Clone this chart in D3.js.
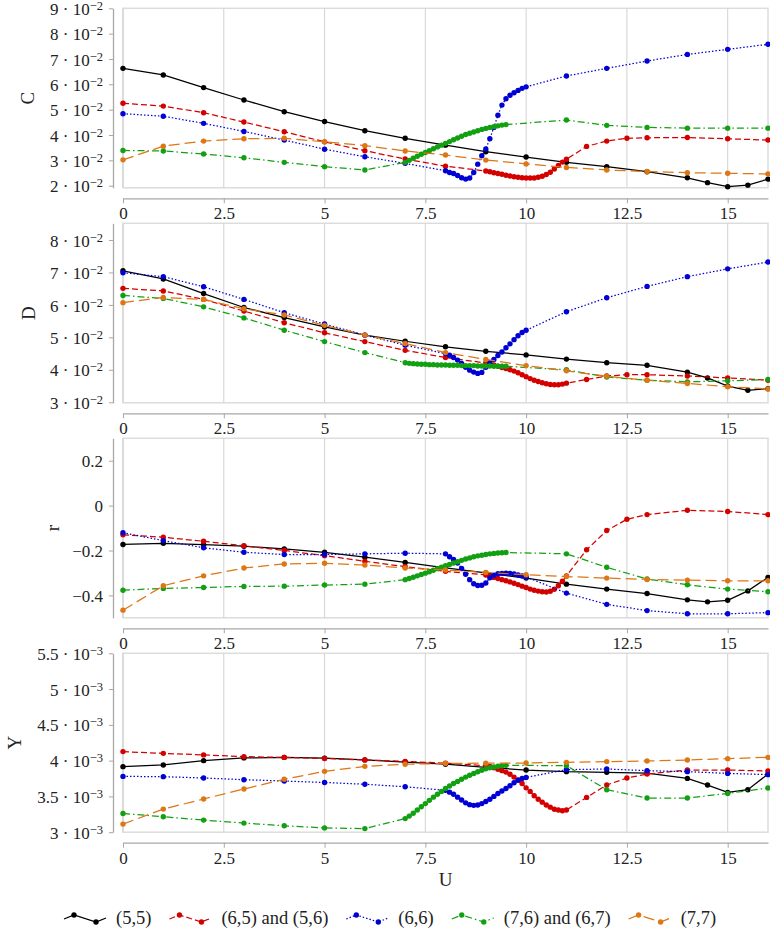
<!DOCTYPE html>
<html>
<head>
<meta charset="utf-8">
<script src="https://cdnjs.cloudflare.com/ajax/libs/d3/7.8.5/d3.min.js"></script>
<style>
  body { margin: 0; background: #fff; }
  svg { display: block; font-family: "Liberation Serif", serif; }
  svg text { font-family: "Liberation Serif", serif; }
</style>
</head>
<body>
<div id="canvas"></div>
<script>
// U grids of each series
const xBlack = [0,1,2,3,4,5,6,7,8,9,10,11,12,13,14,14.5,15,15.5,16];
const xRed = [0,1,2,3,4,5,6,7,8,9,9.1,9.2,9.3,9.4,9.5,9.6,9.7,9.8,9.9,10,10.1,10.2,10.3,10.4,10.5,10.6,10.7,10.8,10.9,11,11.5,12,12.5,13,14,15,16];
const xBlue = [0,1,2,3,4,5,6,7,8,8.1,8.2,8.3,8.4,8.5,8.6,8.7,8.8,8.9,9,9.1,9.2,9.3,9.4,9.5,9.6,9.7,9.8,9.9,10,11,12,13,14,15,16];
const xGreen = [0,1,2,3,4,5,6,7,7.1,7.2,7.3,7.4,7.5,7.6,7.7,7.8,7.9,8,8.1,8.2,8.3,8.4,8.5,8.6,8.7,8.8,8.9,9,9.1,9.2,9.3,9.4,9.5,11,12,13,14,15,16];
const xOrange = [0,1,2,3,4,5,6,7,8,9,10,11,12,13,14,15,16];

// C (x 10^-2)
const blackC = [6.63,6.37,5.87,5.38,4.92,4.53,4.17,3.87,3.60,3.34,3.13,2.92,2.75,2.55,2.31,2.12,1.96,2.02,2.26];
const redC = [5.25,5.14,4.88,4.51,4.13,3.73,3.38,3.05,2.77,2.58,2.55,2.51,2.48,2.45,2.41,2.38,2.35,2.33,2.31,2.30,2.30,2.30,2.33,2.37,2.44,2.53,2.66,2.80,2.93,3.04,3.55,3.76,3.87,3.89,3.90,3.85,3.80];
const blueC = [4.84,4.74,4.46,4.14,3.80,3.44,3.14,2.88,2.59,2.52,2.48,2.40,2.31,2.26,2.30,2.52,2.85,3.18,3.45,3.85,4.30,4.78,5.18,5.43,5.57,5.67,5.76,5.84,5.90,6.33,6.63,6.92,7.18,7.38,7.58];
const greenC = [3.39,3.37,3.25,3.10,2.92,2.75,2.62,2.92,3.00,3.08,3.16,3.24,3.31,3.38,3.46,3.53,3.60,3.67,3.74,3.81,3.88,3.95,4.02,4.07,4.12,4.17,4.22,4.26,4.30,4.33,4.36,4.39,4.41,4.59,4.38,4.30,4.27,4.27,4.27];
const orangeC = [3.02,3.56,3.76,3.85,3.87,3.73,3.58,3.37,3.21,3.01,2.86,2.72,2.62,2.56,2.51,2.49,2.46];

// D (x 10^-2)
const blackD = [7.05,6.80,6.35,5.92,5.61,5.32,5.07,4.88,4.71,4.57,4.46,4.33,4.22,4.14,3.93,3.75,3.50,3.37,3.42];
const redD = [6.51,6.43,6.17,5.81,5.45,5.14,4.87,4.60,4.38,4.21,4.18,4.15,4.11,4.07,4.04,4.00,3.96,3.91,3.85,3.79,3.73,3.68,3.64,3.60,3.57,3.55,3.54,3.54,3.56,3.59,3.70,3.81,3.85,3.85,3.81,3.75,3.68];
const blueD = [6.99,6.87,6.56,6.17,5.76,5.41,5.07,4.76,4.50,4.45,4.38,4.30,4.20,4.08,3.99,3.93,3.89,3.92,4.08,4.22,4.32,4.44,4.55,4.68,4.80,4.93,5.05,5.15,5.22,5.79,6.22,6.57,6.87,7.11,7.32];
const greenD = [6.29,6.20,5.94,5.60,5.22,4.87,4.53,4.22,4.20,4.19,4.18,4.17,4.17,4.16,4.16,4.15,4.15,4.15,4.14,4.14,4.14,4.13,4.13,4.13,4.13,4.12,4.12,4.12,4.12,4.11,4.11,4.11,4.11,4.00,3.78,3.68,3.63,3.66,3.70];
const orangeD = [6.07,6.23,6.17,5.88,5.69,5.37,5.07,4.81,4.53,4.32,4.13,3.97,3.80,3.68,3.58,3.48,3.41];

// r
const blackR = [-0.173,-0.168,-0.174,-0.181,-0.193,-0.208,-0.230,-0.253,-0.278,-0.300,-0.323,-0.350,-0.372,-0.392,-0.420,-0.429,-0.422,-0.380,-0.320];
const redR = [-0.130,-0.141,-0.159,-0.179,-0.200,-0.223,-0.248,-0.272,-0.293,-0.309,-0.315,-0.320,-0.325,-0.330,-0.335,-0.340,-0.346,-0.352,-0.359,-0.365,-0.372,-0.377,-0.381,-0.384,-0.385,-0.382,-0.373,-0.357,-0.337,-0.313,-0.197,-0.111,-0.061,-0.040,-0.021,-0.026,-0.040];
const blueR = [-0.121,-0.156,-0.188,-0.208,-0.218,-0.218,-0.215,-0.212,-0.215,-0.228,-0.240,-0.256,-0.280,-0.306,-0.330,-0.348,-0.356,-0.355,-0.345,-0.322,-0.310,-0.304,-0.302,-0.301,-0.302,-0.305,-0.309,-0.314,-0.318,-0.390,-0.440,-0.468,-0.482,-0.482,-0.477];
const greenR = [-0.377,-0.369,-0.365,-0.360,-0.359,-0.354,-0.350,-0.330,-0.325,-0.319,-0.313,-0.307,-0.301,-0.295,-0.288,-0.281,-0.275,-0.268,-0.262,-0.256,-0.250,-0.244,-0.238,-0.233,-0.228,-0.224,-0.221,-0.218,-0.215,-0.213,-0.211,-0.210,-0.209,-0.215,-0.275,-0.327,-0.353,-0.372,-0.384];
const orangeR = [-0.466,-0.357,-0.313,-0.278,-0.260,-0.257,-0.265,-0.278,-0.287,-0.298,-0.308,-0.316,-0.323,-0.329,-0.332,-0.335,-0.335];

// Y (x 10^-3)
const blackY = [3.916,3.940,4.000,4.038,4.045,4.035,4.010,3.980,3.950,3.905,3.869,3.846,3.837,3.827,3.752,3.659,3.556,3.594,3.813];
const redY = [4.126,4.102,4.080,4.056,4.045,4.030,4.010,3.990,3.965,3.93,3.92,3.90,3.88,3.86,3.84,3.81,3.77,3.73,3.68,3.62,3.57,3.51,3.46,3.42,3.38,3.35,3.32,3.31,3.30,3.31,3.486,3.660,3.757,3.813,3.869,3.869,3.855];
const blueY = [3.780,3.776,3.757,3.734,3.715,3.695,3.670,3.635,3.585,3.560,3.530,3.490,3.450,3.410,3.385,3.375,3.380,3.400,3.430,3.460,3.500,3.540,3.575,3.610,3.650,3.690,3.725,3.750,3.766,3.874,3.883,3.860,3.846,3.822,3.804];
const greenY = [3.262,3.216,3.169,3.127,3.090,3.060,3.050,3.190,3.225,3.265,3.310,3.355,3.400,3.445,3.490,3.530,3.570,3.610,3.645,3.680,3.710,3.740,3.770,3.795,3.820,3.845,3.865,3.885,3.900,3.912,3.922,3.930,3.934,3.930,3.594,3.477,3.477,3.542,3.618];
const orangeY = [3.113,3.323,3.464,3.604,3.740,3.850,3.920,3.950,3.960,3.965,3.967,3.976,3.986,3.995,4.009,4.028,4.046];

const xTicks = [0, 2.5, 5, 7.5, 10, 12.5, 15];

const w = 770;
const h = 941;
const left = 123, right = 768;
const serif = '"Liberation Serif", serif';

const series = [
	{ name: '(5,5)', color: '#000000', dash: null, x: xBlack, vals: [blackC, blackD, blackR, blackY] },
	{ name: '(6,5) and (5,6)', color: '#d40000', dash: '6,3', x: xRed, vals: [redC, redD, redR, redY] },
	{ name: '(6,6)', color: '#0000d4', dash: '1.5,2', x: xBlue, vals: [blueC, blueD, blueR, blueY] },
	{ name: '(7,6) and (6,7)', color: '#12a012', dash: '7,3,1.5,3', x: xGreen, vals: [greenC, greenD, greenR, greenY] },
	{ name: '(7,7)', color: '#dd7614', dash: '11,5', x: xOrange, vals: [orangeC, orangeD, orangeR, orangeY] }
];

const panels = [
	{ label: 'C', top: 8.3, bottom: 187.8, domain: [1.916, 9], ticks: [2,3,4,5,6,7,8,9], exp: '−2', labelX: 27 },
	{ label: 'D', top: 223.3, bottom: 402.8, domain: [2.984, 8.514], ticks: [3,4,5,6,7,8], exp: '−2', labelX: 28 },
	{ label: 'r', top: 438.3, bottom: 617.8, domain: [-0.5, 0.3], ticks: [-0.4,-0.2,0,0.2], exp: null, labelX: 52 },
	{ label: 'Y', top: 653.3, bottom: 832.2, domain: [3, 5.5], ticks: [3,3.5,4,4.5,5,5.5], exp: '−3', labelX: 14 }
];

const fmtNum = (d) => (d < 0 ? '−' : '') + String(Math.abs(d));

const svg = d3.select('#canvas')
	.append('svg')
	.attr('width', w)
	.attr('height', h);

const xScale = d3.scaleLinear().domain([0, 16]).range([left, right]);

panels.forEach((p, pi) => {
	const yScale = d3.scaleLinear().domain(p.domain).range([p.bottom, p.top]);
	const g = svg.append('g');

	// frame + vertical grid
	g.append('rect')
		.attr('x', left).attr('y', p.top)
		.attr('width', right - left).attr('height', p.bottom - p.top)
		.attr('fill', 'none').attr('stroke', '#dcdcdc').attr('stroke-width', 1.5);
	g.selectAll('.grid')
		.data(xTicks)
		.enter()
		.append('line')
		.attr('x1', (d) => xScale(d)).attr('x2', (d) => xScale(d))
		.attr('y1', p.top).attr('y2', p.bottom)
		.attr('stroke', '#d2d2d2').attr('stroke-width', 1);

	// x axis, shifted down
	const xAxis = d3.axisBottom(xScale).tickValues(xTicks).tickSize(5).tickSizeOuter(0).tickPadding(4).tickFormat(fmtNum);
	const gx = g.append('g')
		.attr('transform', 'translate(0, ' + (p.bottom + 10.5) + ')')
		.call(xAxis);
	gx.attr('font-family', null);
	gx.select('.domain').attr('stroke', '#a8a8a8').attr('stroke-width', 1.3);
	gx.selectAll('.tick line').attr('stroke', '#a8a8a8');
	gx.selectAll('text').style('font-family', serif).style('font-size', '17px').attr('fill', '#222');

	// y axis, shifted left
	const yAxis = d3.axisLeft(yScale).tickValues(p.ticks).tickSize(4).tickSizeOuter(0).tickPadding(6).tickFormat(fmtNum);
	const gy = g.append('g')
		.attr('transform', 'translate(' + (left - 10) + ', 0)')
		.call(yAxis);
	gy.attr('font-family', null);
	gy.select('.domain').attr('stroke', '#a8a8a8').attr('stroke-width', 1.3);
	gy.selectAll('.tick line').attr('stroke', '#a8a8a8');
	gy.selectAll('text')
		.style('font-family', serif).style('font-size', '17px').attr('fill', '#222')
		.attr('dy', '0.36em');
	if (p.exp) {
		gy.selectAll('.tick text').each(function(d) {
			const t = d3.select(this).text('');
			t.append('tspan').text(fmtNum(d) + ' · 10');
			t.append('tspan').style('font-size', '12.5px').attr('dy', -5).text(p.exp);
		});
	}

	g.append('text')
		.attr('transform', 'translate(' + p.labelX + ', ' + ((p.top + p.bottom) / 2) + ') rotate(-90)')
		.attr('text-anchor', 'middle')
		.attr('dy', '0.35em')
		.style('font-size', '19px')
		.attr('fill', '#222')
		.text(p.label);

	// series
	series.forEach((s) => {
		const pts = s.x.map((u, i) => [u, s.vals[pi][i]]);
		const line = d3.line().x((d) => xScale(d[0])).y((d) => yScale(d[1]));
		g.append('path')
			.datum(pts)
			.attr('d', line)
			.attr('fill', 'none')
			.attr('stroke', s.color)
			.attr('stroke-width', 1.25)
			.attr('stroke-dasharray', s.dash);
		g.selectAll(null)
			.data(pts)
			.enter()
			.append('circle')
			.attr('cx', (d) => xScale(d[0]))
			.attr('cy', (d) => yScale(d[1]))
			.attr('r', 2.7)
			.attr('fill', s.color);
	});
});

svg.append('text')
	.attr('x', (left + right) / 2)
	.attr('y', 886)
	.attr('text-anchor', 'middle')
	.style('font-size', '19px')
	.attr('fill', '#222')
	.text('U');

// legend
const legY = 918;
const leg = svg.append('g');
let lx = 64;
series.forEach((s) => {
	const sample = [[lx, legY + 1], [lx + 10, legY - 3], [lx + 32, legY + 4], [lx + 42, legY]];
	leg.append('path')
		.attr('d', d3.line()(sample))
		.attr('fill', 'none')
		.attr('stroke', s.color)
		.attr('stroke-width', 1.25)
		.attr('stroke-dasharray', s.dash);
	leg.selectAll(null)
		.data([sample[1], sample[2]])
		.enter()
		.append('circle')
		.attr('cx', (d) => d[0]).attr('cy', (d) => d[1]).attr('r', 2.7)
		.attr('fill', s.color);
	const t = leg.append('text')
		.attr('x', lx + 52)
		.attr('y', legY)
		.attr('dy', '0.35em')
		.style('font-size', '18.5px')
		.attr('fill', '#222')
		.text(s.name);
	lx += 52 + t.node().getComputedTextLength() + 18;
});
</script>
</body>
</html>
